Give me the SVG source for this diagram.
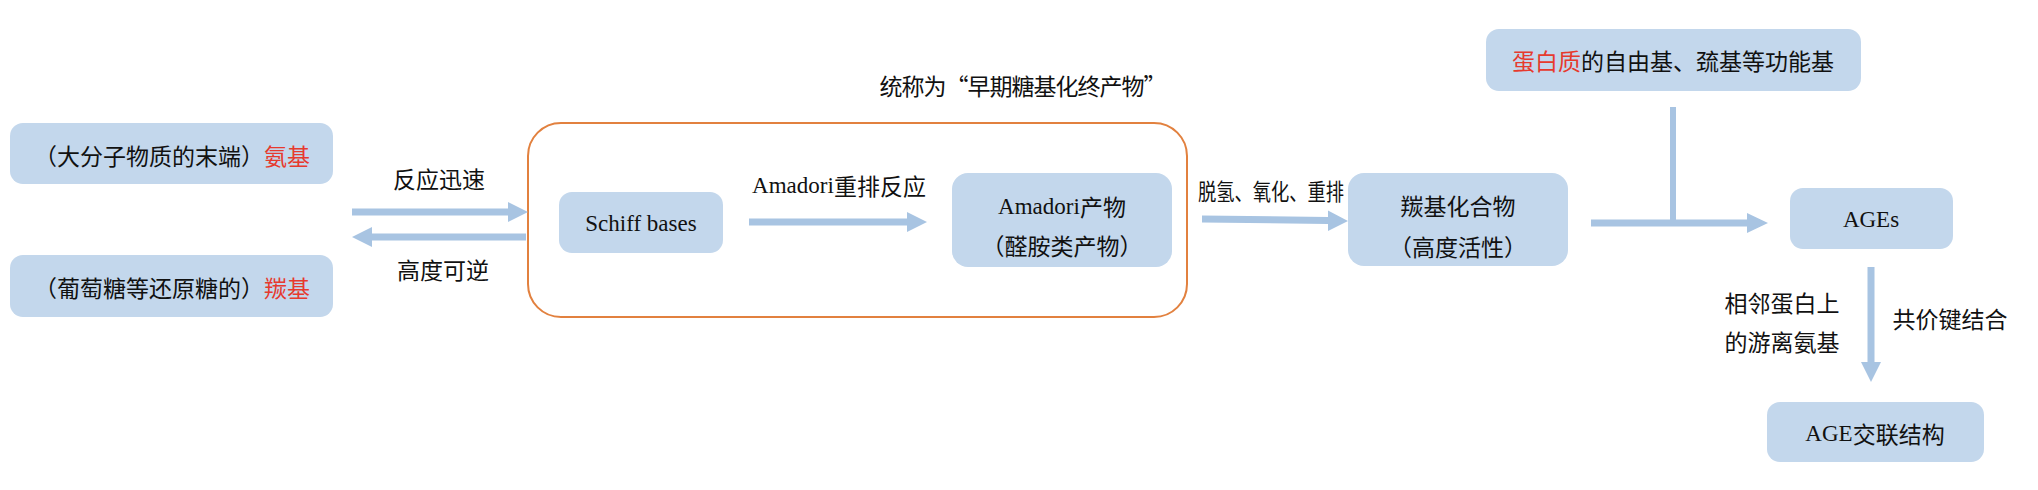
<svg xmlns="http://www.w3.org/2000/svg" width="2038" height="490" viewBox="0 0 2038 490">
<style>
.box{fill:#C3D7EC;}
.t{font-family:"Noto Sans CJK SC","Noto Sans CJK TC",sans-serif;font-size:23px;fill:#111;text-anchor:middle;dominant-baseline:central;}
.lat{font-family:"Liberation Serif","Times New Roman",serif;}
.cjk{font-family:"Noto Sans CJK SC",sans-serif;}
.red{fill:#E63A2E;}
.arr{fill:#A8C4E2;}
</style>
<rect width="2038" height="490" fill="#FFFFFF"/>
<g id="group-early">
<rect x="528" y="123" width="659" height="194" rx="33" fill="none" stroke="#E2813F" stroke-width="2"/>
<text class="t" x="1023" y="85" font-size="22" textLength="287" lengthAdjust="spacing">统称为“早期糖基化终产物”</text>
</g>
<g id="amino">
<rect class="box" x="10" y="123" width="323" height="61" rx="13"/>
<text class="t" x="172" y="155" font-size="24">（大分子物质的末端）<tspan class="red">氨基</tspan></text>
</g>
<g id="carbonyl">
<rect class="box" x="10" y="255" width="323" height="62" rx="13"/>
<text class="t" x="172" y="287" font-size="24">（葡萄糖等还原糖的）<tspan class="red">羰基</tspan></text>
</g>
<g id="schiff">
<rect class="box" x="559" y="192" width="164" height="61" rx="13"/>
<text class="t lat" x="641" y="223">Schiff bases</text>
</g>
<g id="amadori">
<rect class="box" x="952" y="173" width="220" height="94" rx="16"/>
<text class="t" x="1062" y="206"><tspan class="lat">Amadori</tspan><tspan class="cjk">产物</tspan></text>
<text class="t" x="1062" y="245">（醛胺类产物）</text>
</g>
<g id="carbonyl-compound">
<rect class="box" x="1348" y="173" width="220" height="93" rx="16"/>
<text class="t" x="1458" y="205">羰基化合物</text>
<text class="t" x="1458" y="246">（高度活性）</text>
</g>
<g id="protein">
<rect class="box" x="1486" y="29" width="375" height="62" rx="13"/>
<text class="t" x="1673" y="60" font-size="25"><tspan class="red">蛋白质</tspan>的自由基、巯基等功能基</text>
</g>
<g id="ages">
<rect class="box" x="1790" y="188" width="163" height="61" rx="13"/>
<text class="t lat" x="1871" y="219">AGEs</text>
</g>
<g id="age-crosslink">
<rect class="box" x="1767" y="402" width="217" height="60" rx="13"/>
<text class="t" x="1875" y="433"><tspan class="lat">AGE</tspan><tspan class="cjk">交联结构</tspan></text>
</g>
<g id="connectors">
<polygon class="arr" points="352,208.5 508,208.5 508,202 528,212 508,222 508,215.5 352,215.5"/>
<polygon class="arr" points="526,233.5 372,233.5 372,227 352,237 372,247 372,240.5 526,240.5"/>
<polygon class="arr" points="749,218.5 907,218.5 907,212 927,222 907,232 907,225.5 749,225.5"/>
<polygon class="arr" points="1202,215.5 1328,217 1328,210.5 1348,221 1328,231 1328,224 1202,222.5"/>
<rect class="arr" x="1670" y="107" width="6" height="116"/>
<polygon class="arr" points="1591,219.5 1747,219.5 1747,213 1768,223 1747,233 1747,226.5 1591,226.5"/>
<polygon class="arr" points="1867.5,267 1874.5,267 1874.5,362 1881,362 1871,382 1861,362 1867.5,362"/>
<text class="t" x="439" y="178">反应迅速</text>
<text class="t" x="443" y="269">高度可逆</text>
<text class="t" x="839" y="185"><tspan class="lat">Amadori</tspan><tspan class="cjk">重排反应</tspan></text>
<text class="t" x="1271" y="190" font-size="21" textLength="146" lengthAdjust="spacingAndGlyphs">脱氢、氧化、重排</text>
<text class="t" x="1782" y="302">相邻蛋白上</text>
<text class="t" x="1782" y="341">的游离氨基</text>
<text class="t" x="1950" y="318">共价键结合</text>
</g>
</svg>
